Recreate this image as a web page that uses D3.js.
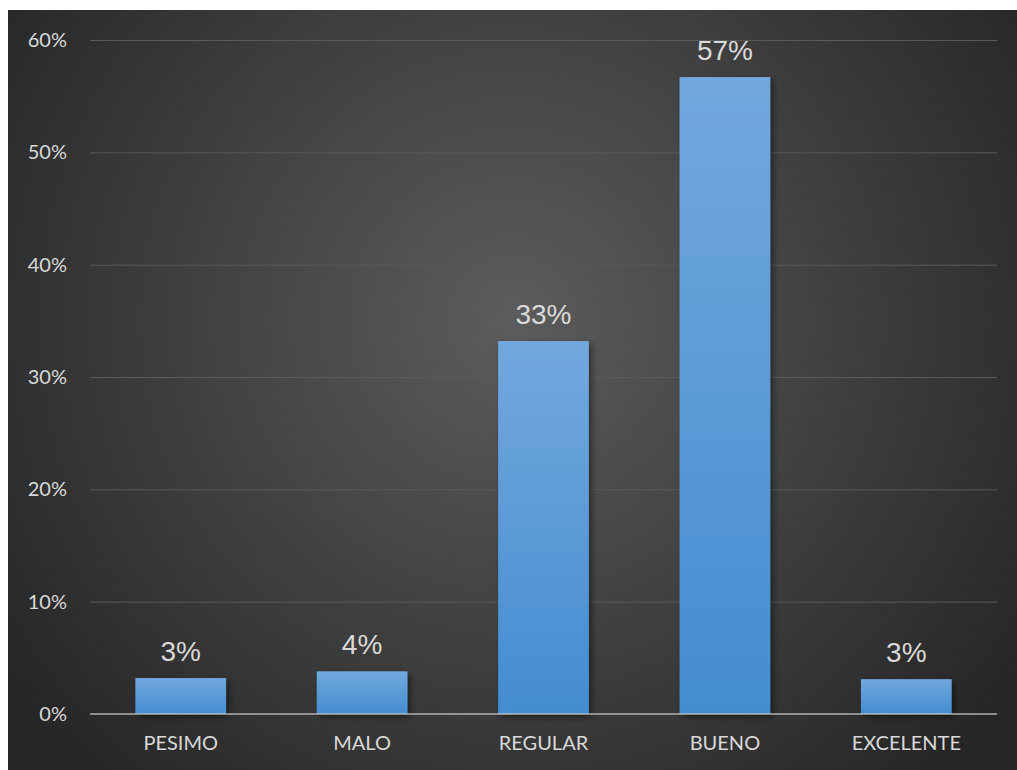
<!DOCTYPE html>
<html>
<head>
<meta charset="utf-8">
<script src="https://cdn.jsdelivr.net/npm/d3@7"></script>
<style>
  html, body { margin: 0; padding: 0; background: #ffffff; }
  svg { display: block; }
</style>
</head>
<body>
<svg id="chart" width="1017" height="770"></svg>
<script>
// Survey rating categories and their share of responses
const categories = ["PESIMO", "MALO", "REGULAR", "BUENO", "EXCELENTE"];
const shares = [0.032, 0.038, 0.332, 0.567, 0.031];
const yTicks = [0, 0.1, 0.2, 0.3, 0.4, 0.5, 0.6];

const svg = d3.select("#chart");
const W = 1017, H = 770;
const panel = { x: 8, y: 10, w: W - 8, h: H - 10 };
const plot = { left: 90, right: 997, top: 40, bottom: 714 };

const defs = svg.append("defs");

// Dark radial backdrop, lighter towards the middle
const bg = defs.append("radialGradient")
  .attr("id", "bgGrad")
  .attr("gradientUnits", "userSpaceOnUse")
  .attr("cx", 512).attr("cy", 320).attr("r", 620);
bg.append("stop").attr("offset", "0%").attr("stop-color", "#5c5c5c");
bg.append("stop").attr("offset", "100%").attr("stop-color", "#262626");

// Bar fill: soft blue fading slightly darker downward
const barGrad = defs.append("linearGradient")
  .attr("id", "barGrad")
  .attr("x1", 0).attr("y1", 0).attr("x2", 0).attr("y2", 1);
barGrad.append("stop").attr("offset", "0%").attr("stop-color", "#72a8de");
barGrad.append("stop").attr("offset", "100%").attr("stop-color", "#438dd0");

const shadow = defs.append("filter")
  .attr("id", "barShadow")
  .attr("x", "-20%").attr("y", "-20%").attr("width", "150%").attr("height", "150%");
shadow.append("feDropShadow")
  .attr("dx", 3).attr("dy", 3).attr("stdDeviation", 3)
  .attr("flood-color", "#000").attr("flood-opacity", 0.45);

svg.append("rect")
  .attr("x", panel.x).attr("y", panel.y)
  .attr("width", panel.w).attr("height", panel.h)
  .attr("fill", "url(#bgGrad)");

const x = d3.scaleBand()
  .domain(categories)
  .range([plot.left, plot.right])
  .paddingInner(0.5)
  .paddingOuter(0.25);

const y = d3.scaleLinear()
  .domain([0, 0.6])
  .range([plot.bottom, plot.top]);

// Horizontal gridlines and percentage tick labels
const yAxis = d3.axisLeft(y)
  .tickValues(yTicks)
  .tickFormat(d3.format(".0%"))
  .tickSize(-(plot.right - plot.left))
  .tickPadding(23);

const gy = svg.append("g")
  .attr("transform", `translate(${plot.left},0)`)
  .call(yAxis);
gy.select(".domain").remove();
gy.selectAll(".tick line")
  .attr("stroke", "#5a5a5a")
  .attr("stroke-width", 1)
  .attr("opacity", d => d === 0 ? 0 : 1);
gy.selectAll(".tick text")
  .attr("fill", "#d9d9d9")
  .attr("font-family", "Lato, 'Open Sans', sans-serif")
  .attr("font-size", 20);

// Bars
svg.append("g")
  .selectAll("rect")
  .data(categories)
  .join("rect")
  .attr("x", d => x(d))
  .attr("y", (d, i) => y(shares[i]))
  .attr("width", x.bandwidth())
  .attr("height", (d, i) => y(0) - y(shares[i]))
  .attr("fill", "url(#barGrad)")
  .attr("filter", "url(#barShadow)");

// Baseline
svg.append("line")
  .attr("x1", plot.left).attr("x2", plot.right)
  .attr("y1", y(0)).attr("y2", y(0))
  .attr("stroke", "#d0d0d0")
  .attr("stroke-opacity", 0.6)
  .attr("stroke-width", 2);

// Category labels along the bottom
const xAxis = d3.axisBottom(x).tickSize(0).tickPadding(22);
const gx = svg.append("g")
  .attr("transform", `translate(0,${plot.bottom})`)
  .call(xAxis);
gx.select(".domain").remove();
gx.selectAll(".tick text")
  .attr("fill", "#d9d9d9")
  .attr("font-family", "Lato, 'Open Sans', sans-serif")
  .attr("font-size", 20);

// Value labels above each bar
svg.append("g")
  .selectAll("text")
  .data(categories)
  .join("text")
  .attr("x", d => x(d) + x.bandwidth() / 2)
  .attr("y", (d, i) => y(shares[i]) - 17)
  .attr("text-anchor", "middle")
  .attr("fill", "#d9d9d9")
  .attr("font-family", "'Liberation Sans', Arial, sans-serif")
  .attr("font-size", 28)
  .text((d, i) => d3.format(".0%")(shares[i]));
</script>
</body>
</html>
